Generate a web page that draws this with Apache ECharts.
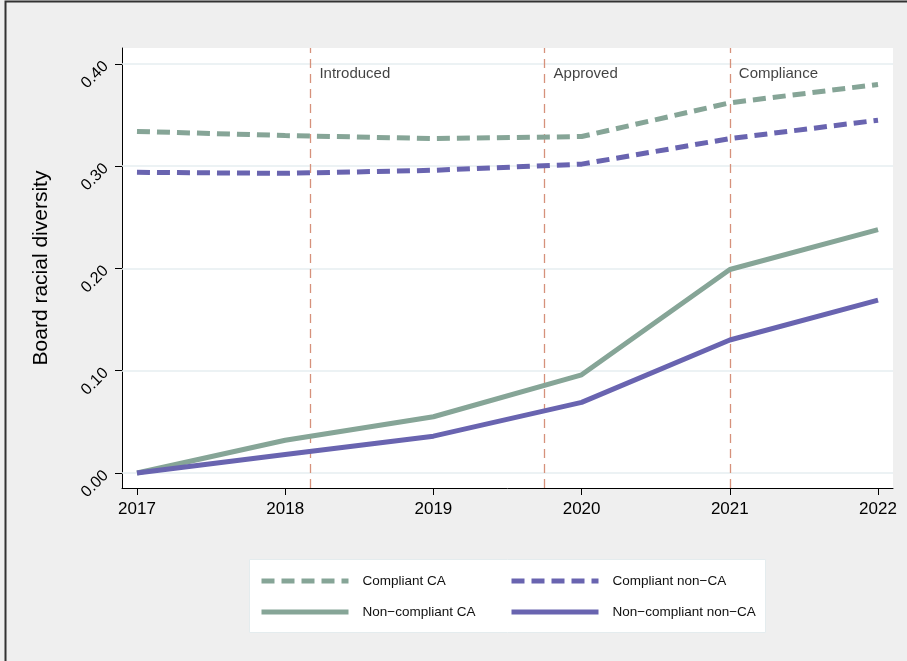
<!DOCTYPE html>
<html>
<head>
<meta charset="utf-8">
<script src="https://cdn.jsdelivr.net/npm/echarts@6/dist/echarts.min.js"></script>
<style>
  html, body { margin: 0; padding: 0; background: #efefef; }
  #chart { width: 907px; height: 661px; }
</style>
</head>
<body>
<div id="chart"></div>
<script>
// Years on the x axis
const years = [2017, 2018, 2019, 2020, 2021, 2022];

// Mean share of racially diverse board members by group
const compliantCA       = [0.334, 0.330, 0.327, 0.329, 0.362, 0.380];
const compliantNonCA    = [0.294, 0.293, 0.296, 0.302, 0.327, 0.345];
const noncompliantCA    = [0.000, 0.032, 0.055, 0.096, 0.199, 0.238];
const noncompliantNonCA = [0.000, 0.018, 0.036, 0.069, 0.130, 0.169];

// Legislative milestones (fractional year) and their captions
const eventYears  = [2018.17, 2019.75, 2021.0];
const eventNames  = ['Introduced', 'Approved', 'Compliance'];
const eventLabelY = 0.39;

// Axis ticks
const yTicks = [0.0, 0.1, 0.2, 0.3, 0.4];
const xTicks = years;

const GREEN = '#86a597';
const PURPLE = '#6964b0';
const FONT = '"Liberation Sans", Arial, sans-serif';
const DASH = [13, 7];

const pairs = vals => years.map((y, i) => [y, vals[i]]);

function lineSeries(name, vals, color, dashed) {
  return {
    name: name,
    type: 'line',
    data: pairs(vals),
    symbol: 'none',
    z: 5,
    lineStyle: { color: color, width: 5, type: dashed ? DASH : 'solid', cap: 'butt' },
    itemStyle: { color: color },
    emphasis: { disabled: true }
  };
}

const chart = echarts.init(document.getElementById('chart'), null, { renderer: 'canvas' });

chart.setOption({
  animation: false,
  backgroundColor: '#efefef',
  textStyle: { fontFamily: FONT },
  graphic: [
    {
      type: 'rect', z: 0,
      shape: { x: 5.5, y: 1.5, width: 1000, height: 1000 },
      style: { fill: 'none', stroke: '#333', lineWidth: 2 }
    },
    {
      type: 'rect', z: 1,
      shape: { x: 249.5, y: 559.5, width: 516, height: 73 },
      style: { fill: '#ffffff', stroke: '#e4ecee', lineWidth: 1 }
    }
  ],
  grid: {
    left: 122, top: 48, width: 771, height: 440,
    show: true, backgroundColor: '#ffffff', borderWidth: 0
  },
  legend: [
    {
      data: ['Compliant CA', 'Non−compliant CA'],
      orient: 'vertical', left: 259, top: 573, padding: 0,
      itemWidth: 87, itemHeight: 6, itemGap: 15,
      selectedMode: false,
      itemStyle: { opacity: 0 },
      lineStyle: { width: 5, type: 'inherit' },
      textStyle: { fontFamily: FONT, fontSize: 13.5, color: '#111', lineHeight: 16, padding: [0, 0, 0, 9] }
    },
    {
      data: ['Compliant non−CA', 'Non−compliant non−CA'],
      orient: 'vertical', left: 509, top: 573, padding: 0,
      itemWidth: 87, itemHeight: 6, itemGap: 15,
      selectedMode: false,
      itemStyle: { opacity: 0 },
      lineStyle: { width: 5, type: 'inherit' },
      textStyle: { fontFamily: FONT, fontSize: 13.5, color: '#111', lineHeight: 16, padding: [0, 0, 0, 9] }
    }
  ],
  xAxis: {
    type: 'value',
    min: 2016.899, max: 2022.101,
    axisLine: { show: true, onZero: false, lineStyle: { color: '#000', width: 1 } },
    axisTick: { show: true, customValues: xTicks, length: 7, lineStyle: { color: '#000' } },
    axisLabel: {
      customValues: xTicks, margin: 13,
      fontFamily: FONT, fontSize: 17, color: '#000',
      formatter: v => String(Math.round(v))
    },
    splitLine: { show: false }
  },
  yAxis: {
    type: 'value',
    min: -0.0147, max: 0.4156,
    name: 'Board racial diversity',
    nameLocation: 'middle', nameGap: 70,
    nameTextStyle: { fontFamily: FONT, fontSize: 21, color: '#000' },
    axisLine: { show: true, onZero: false, lineStyle: { color: '#000', width: 1 } },
    axisTick: { show: true, customValues: yTicks, length: 7, lineStyle: { color: '#000' } },
    axisLabel: {
      customValues: yTicks, rotate: 45, margin: 16,
      fontFamily: FONT, fontSize: 16, color: '#000',
      formatter: v => v.toFixed(2)
    },
    splitLine: { show: false }
  },
  series: [
    {
      name: 'events',
      type: 'scatter',
      z: 2,
      silent: true,
      symbolSize: 0,
      data: eventYears.map((x, i) => ({ value: [x, eventLabelY], name: eventNames[i] })),
      label: {
        show: true, position: 'right', distance: 9,
        fontFamily: FONT, fontSize: 15, color: '#111',
        formatter: p => p.name
      },
      markLine: {
        silent: true,
        symbol: ['none', 'none'],
        label: { show: false },
        data: [
          ...yTicks.map(v => ({ yAxis: v, lineStyle: { color: '#e6eef0', width: 1.5, type: 'solid' } })),
          ...eventYears.map(v => ({ xAxis: v, lineStyle: { color: '#d6917b', width: 1.3, type: [9, 6] } }))
        ]
      }
    },
    lineSeries('Compliant CA', compliantCA, GREEN, true),
    lineSeries('Compliant non−CA', compliantNonCA, PURPLE, true),
    lineSeries('Non−compliant CA', noncompliantCA, GREEN, false),
    lineSeries('Non−compliant non−CA', noncompliantNonCA, PURPLE, false)
  ]
});
</script>
</body>
</html>
